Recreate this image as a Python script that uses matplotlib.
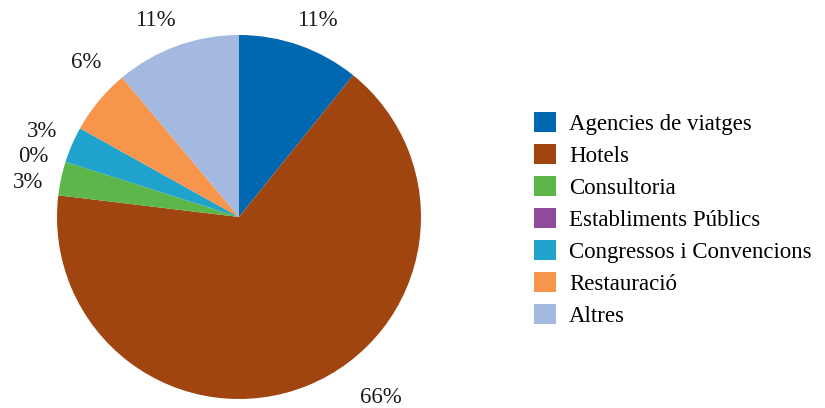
import matplotlib.pyplot as plt
from matplotlib.patches import Patch

plt.rcParams['font.family'] = ['Liberation Serif', 'DejaVu Serif']

categories = ['Agencies de viatges', 'Hotels', 'Consultoria', 'Establiments Públics',
              'Congressos i Convencions', 'Restauració', 'Altres']
values = [10.8, 66.1, 3.0, 0.0, 3.2, 5.8, 11.1]
pct_labels = ['11%', '66%', '3%', '0%', '3%', '6%', '11%']
colors = ['#0067b1', '#a04510', '#5db649', '#8e4a9b', '#1fa3cd', '#f6954b', '#a4b9df']

# label positions (data coords, pie radius = 1)
label_pos = [(0.43, 1.08), (0.78, -0.99), (-1.16, 0.19), (-1.13, 0.33),
             (-1.08, 0.47), (-0.84, 0.85), (-0.46, 1.08)]

fig = plt.figure(figsize=(8.25, 4.08), dpi=100)
ax = fig.add_axes([57 / 825, 9 / 408, 364 / 825, 364 / 408])
ax.pie(values, colors=colors, startangle=90, counterclock=False, radius=1,
       wedgeprops={'linewidth': 0})
ax.set_xlim(-1, 1)
ax.set_ylim(-1, 1)
ax.set_aspect('equal')
ax.axis('off')

for txt, (x, y) in zip(pct_labels, label_pos):
    ax.text(x, y, txt, ha='center', va='center', fontsize=16.5, color='#1a1a1a',
            clip_on=False)

handles = [Patch(facecolor=c, edgecolor='none') for c in colors]
fig.legend(handles, categories, loc='upper left', bbox_to_anchor=(534 / 825, 1 - 112 / 408),
           frameon=False, fontsize=16.5, handlelength=0.96, handleheight=0.96,
           handletextpad=0.57, labelspacing=0.4, borderaxespad=0, borderpad=0)

fig.savefig('out.png', dpi=100)
